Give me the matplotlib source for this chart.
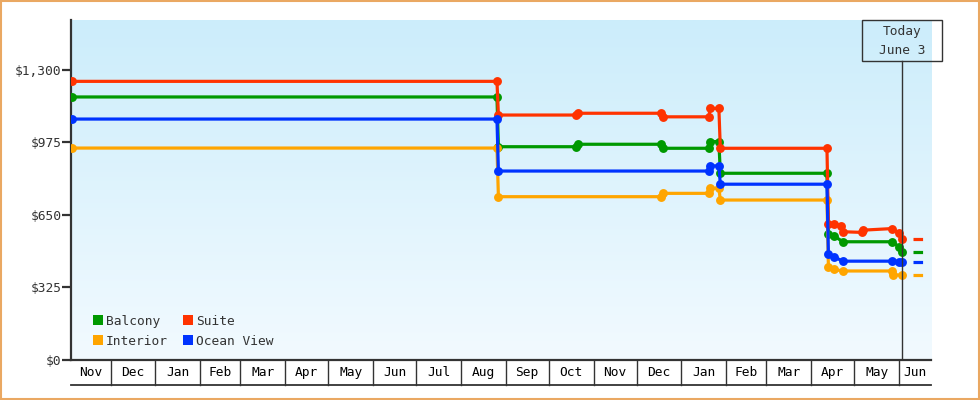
import numpy as np
import pandas as pd
import matplotlib
matplotlib.use("Agg")
import matplotlib.pyplot as plt
import matplotlib.dates as mdates
from matplotlib.patches import Rectangle
from matplotlib.lines import Line2D

# ─────────────────────────────────────────────
#  Data
# ─────────────────────────────────────────────
balcony_dates = ["2017-11-04", "2018-08-26", "2018-08-27", "2018-10-20", "2018-10-21",
                 "2018-12-18", "2018-12-19", "2019-01-20", "2019-01-21", "2019-01-27",
                 "2019-01-28", "2019-04-12", "2019-04-13", "2019-04-17", "2019-04-23",
                 "2019-05-27", "2019-06-01", "2019-06-03"]
balcony_prices = [1179, 1179, 956, 956, 967, 967, 949, 949, 979, 979,
                  837, 837, 565, 556, 530, 530, 508, 485]

suite_dates = ["2017-11-04", "2018-08-26", "2018-08-27", "2018-10-20", "2018-10-21",
               "2018-12-18", "2018-12-19", "2019-01-20", "2019-01-21", "2019-01-27",
               "2019-01-28", "2019-04-12", "2019-04-13", "2019-04-17", "2019-04-22",
               "2019-04-23", "2019-05-06", "2019-05-07", "2019-05-27", "2019-06-01",
               "2019-06-03"]
suite_prices = [1249, 1249, 1098, 1098, 1106, 1106, 1090, 1090, 1128, 1128,
                949, 949, 610, 610, 601, 575, 572, 582, 589, 568, 541]

interior_dates = ["2017-11-04", "2018-08-26", "2018-08-27", "2018-12-18", "2018-12-19",
                  "2019-01-20", "2019-01-21", "2019-01-27", "2019-01-28", "2019-04-12",
                  "2019-04-13", "2019-04-17", "2019-04-23", "2019-05-27", "2019-05-28",
                  "2019-06-03"]
interior_prices = [950, 950, 732, 732, 747, 747, 770, 770, 717, 717,
                   418, 406, 399, 399, 381, 381]

ocean_dates = ["2017-11-04", "2018-08-26", "2018-08-27", "2019-01-20", "2019-01-21",
               "2019-01-27", "2019-01-28", "2019-04-12", "2019-04-13", "2019-04-17",
               "2019-04-23", "2019-05-27", "2019-06-01", "2019-06-03"]
ocean_prices = [1080, 1080, 847, 847, 870, 870, 788, 788, 475, 462,
                443, 443, 441, 441]

series_names = ["Balcony", "Interior", "Suite", "Ocean View"]
series_colors = ["#009900", "#ffa500", "#ff3300", "#0033ff"]
series_data = [(balcony_dates, balcony_prices), (interior_dates, interior_prices),
               (suite_dates, suite_prices), (ocean_dates, ocean_prices)]

month_labels = ["Nov", "Dec", "Jan", "Feb", "Mar", "Apr", "May", "Jun", "Jul", "Aug",
                "Sep", "Oct", "Nov", "Dec", "Jan", "Feb", "Mar", "Apr", "May", "Jun"]
y_ticks = [0, 325, 650, 975, 1300]
y_labels = ["$0", "$325", "$650", "$975", "$1,300"]
today = "2019-06-03"
today_label = ["Today", "June 3"]

# ─────────────────────────────────────────────
#  Figure / axes
# ─────────────────────────────────────────────
W, H = 980, 400
fig = plt.figure(figsize=(W / 100, H / 100), dpi=100)
ax_l, ax_r, ax_t, ax_b = 71, 931, 20, 360
ax = fig.add_axes([ax_l / W, 1 - ax_b / H, (ax_r - ax_l) / W, (ax_b - ax_t) / H])

FONT = "DejaVu Sans Mono"
FS = 9.3
DARK = "#333333"

t0 = mdates.date2num(pd.Timestamp("2017-11-01"))
x0, x1 = t0 + 2.4, t0 + 599.2
ax.set_xlim(x0, x1)
ax.set_ylim(0, 1524)

# gradient background
grad = np.linspace(0, 1, 256)[:, None]
top_c = np.array([204, 237, 251]) / 255
bot_c = np.array([242, 250, 255]) / 255
img = top_c[None, None, :] * (1 - grad[:, :, None]) + bot_c[None, None, :] * grad[:, :, None]
ax.imshow(img, extent=[0, 1, 0, 1], transform=ax.transAxes, aspect="auto", zorder=0)

for s in ["top", "right"]:
    ax.spines[s].set_visible(False)
ax.spines["left"].set_color(DARK); ax.spines["left"].set_linewidth(1.6)
ax.spines["bottom"].set_color(DARK); ax.spines["bottom"].set_linewidth(1.6)

ax.set_yticks(y_ticks)
ax.set_yticklabels(y_labels, fontfamily=FONT, fontsize=FS, color=DARK)
ax.tick_params(axis="y", length=6.5, width=1.6, color=DARK, pad=0.5)
ax.set_xticks([])

# month cells below the axis
cell_h = 25 / (ax_b - ax_t)
bounds = pd.date_range("2017-12-01", "2019-06-01", freq="MS")
bnum = [mdates.date2num(b) for b in bounds]
edges = [x0] + bnum + [x1]
xfrac = lambda v: (v - x0) / (x1 - x0)
for b in bnum:
    ax.plot([xfrac(b)] * 2, [0, -cell_h], transform=ax.transAxes, color=DARK,
            lw=1.0, clip_on=False)
ax.plot([0, 1], [-cell_h, -cell_h], transform=ax.transAxes, color=DARK, lw=1.3, clip_on=False)
for i, lab in enumerate(month_labels):
    cx = (xfrac(edges[i]) + xfrac(edges[i + 1])) / 2
    ax.text(cx, -cell_h / 2, lab, transform=ax.transAxes, ha="center", va="center",
            fontfamily=FONT, fontsize=FS, color="black")

# series
tnum = mdates.date2num(pd.Timestamp(today))
for (d, p), c in zip(series_data, series_colors):
    dn = mdates.date2num(pd.to_datetime(d))
    ax.plot(dn, p, color=c, lw=2.3, marker="o", ms=6.4, mew=0, zorder=3)
    ax.plot([tnum + 7.5, x1], [p[-1], p[-1]], color=c, lw=2.3, zorder=3,
            linestyle=(0, (3.0, 4.0)), dash_capstyle="butt")

# today marker
box_top = 1.0
box_bot = (ax_b - 60.7) / (ax_b - ax_t)
tx = xfrac(tnum)
ax.plot([tx, tx], [0, box_bot], transform=ax.transAxes, color=DARK, lw=1.0, zorder=4)
bw = 80 / (ax_r - ax_l)
ax.add_patch(Rectangle((tx - bw / 2, box_bot), bw, box_top - box_bot, transform=ax.transAxes,
                       fill=False, ec=DARK, lw=1.0, clip_on=False, zorder=5))
for k, txt in enumerate(today_label):
    ypx = 32 + 18 * k
    ax.text(tx, (ax_b - ypx) / (ax_b - ax_t), txt, transform=ax.transAxes, ha="center",
            va="center", fontfamily=FONT, fontsize=FS, color=DARK, zorder=6)

# legend
handles = [Line2D([], [], ls="", marker="s", ms=7.7, mew=0, color=c) for c in series_colors]
leg = ax.legend(handles, series_names, ncol=2, loc="lower left",
                bbox_to_anchor=((86 - ax_l) / (ax_r - ax_l), 0.017),
                frameon=False, borderpad=0, handlelength=0.85, handletextpad=0.2,
                columnspacing=1.15, labelspacing=0.55,
                prop={"family": FONT, "size": FS})
for t in leg.get_texts():
    t.set_color(DARK)

# outer border
fig.add_artist(Rectangle((0.001, 0.002), 0.998, 0.996, transform=fig.transFigure,
                         fill=False, ec="#eaa862", lw=1.5))

fig.savefig("out.png", dpi=100)
